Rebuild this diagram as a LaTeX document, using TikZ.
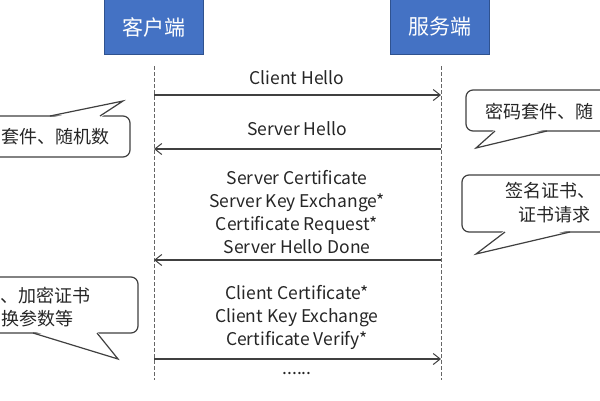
\documentclass[tikz,border=0pt]{standalone}
\usepackage{fontspec}
\setmainfont{Noto Sans CJK SC}
\usetikzlibrary{arrows.meta}
\definecolor{hdrfill}{HTML}{4472C4}
\definecolor{hdrdraw}{HTML}{2F528F}
\definecolor{txt}{HTML}{262626}
\definecolor{lne}{HTML}{404040}
\begin{document}
\begin{tikzpicture}[x=1pt,y=-1pt,
  hdr/.style={draw=hdrdraw,line width=1pt,fill=hdrfill,text=white,minimum width=99pt,minimum height=55pt,inner sep=0pt,font=\fontsize{21}{24}\selectfont},
  life/.style={draw=lne!80,line width=0.8pt,dash pattern=on 4pt off 2pt},
  msg/.style={draw=lne,line width=1.2pt,-{Straight Barb[length=7pt,width=11pt,line width=1pt]}},
  lbl/.style={text=txt,align=center,inner sep=0pt,font=\fontsize{17.5}{23}\selectfont},
  ctxt/.style={text=txt,inner sep=0pt,font=\fontsize{18}{23}\selectfont},
  callout/.style={draw=lne,line width=1.2pt,fill=white}]
\useasboundingbox (0,0) rectangle (600,400);
\fill[white] (0,0) rectangle (600,400);
\begin{scope}
\clip (0,0) rectangle (600,400);
% headers
\node[hdr] (client) at (153.5,27) {客户端};
\node[hdr] (server) at (439.5,27) {服务端};
% lifelines
\coordinate (cTop) at (154,66);
\coordinate (cBot) at (154,380);
\coordinate (sTop) at (441,66);
\coordinate (sBot) at (441,380);
\draw[life] (cTop) -- (cBot);
\draw[life] (sTop) -- (sBot);
% messages
\coordinate (c1) at (154,95);  \coordinate (s1) at (441,95);
\coordinate (c2) at (154,149); \coordinate (s2) at (441,149);
\coordinate (c3) at (154,260); \coordinate (s3) at (441,260);
\coordinate (c4) at (154,359); \coordinate (s4) at (441,359);
\draw[msg] (c1) -- (s1);
\draw[msg] (s2) -- (c2);
\draw[msg] (s3) -- (c3);
\draw[msg] (c4) -- (s4);
\node[lbl] (l1) at (297,78) {Client Hello};
\node[lbl] (l2) at (297,129) {Server Hello};
\node[lbl] (l3) at (297,212) {Server Certificate\\Server Key Exchange*\\Certificate Request*\\Server Hello Done};
\node[lbl] (l4) at (297,317) {Client Certificate*\\Client Key Exchange\\Certificate Verify*};
\node[lbl] (l5) at (297,374) {......};
% callout left top
\draw[callout,rounded corners=7pt] (-60,116) rectangle (130,157);
\fill[white] (50,118) -- (123,101) -- (100,118) -- cycle;
\draw[callout,fill=none] (50,116) -- (123,101) -- (100,116);
\node[ctxt,anchor=east] (t1) at (110,137) {套件、随机数};
% callout right top
\draw[callout,rounded corners=7pt] (466,90) rectangle (660,131);
\fill[white] (495,129) -- (476,148) -- (547,129) -- cycle;
\draw[callout,fill=none] (495,131) -- (476,148) -- (547,131);
\node[ctxt,anchor=west] (t2) at (485,112) {密码套件、随};
% callout right second
\draw[callout,rounded corners=7pt] (462,175) rectangle (660,232);
\fill[white] (505,230) -- (476,254) -- (570,230) -- cycle;
\draw[callout,fill=none] (505,232) -- (476,254) -- (570,232);
\node[ctxt,anchor=west] (t3) at (505,191) {签名证书、};
\node[ctxt,anchor=west] (t4) at (518,215) {证书请求};
% callout left bottom
\draw[callout,rounded corners=7pt] (-60,277) rectangle (138,333);
\fill[white] (33,331) -- (118,359) -- (97,331) -- cycle;
\draw[callout,fill=none] (33,333) -- (118,359) -- (97,333);
\node[ctxt,anchor=west] (t5) at (0,296) {、加密证书};
\node[ctxt,anchor=west] (t6) at (1,319) {换参数等};
\end{scope}
\end{tikzpicture}
\end{document}
